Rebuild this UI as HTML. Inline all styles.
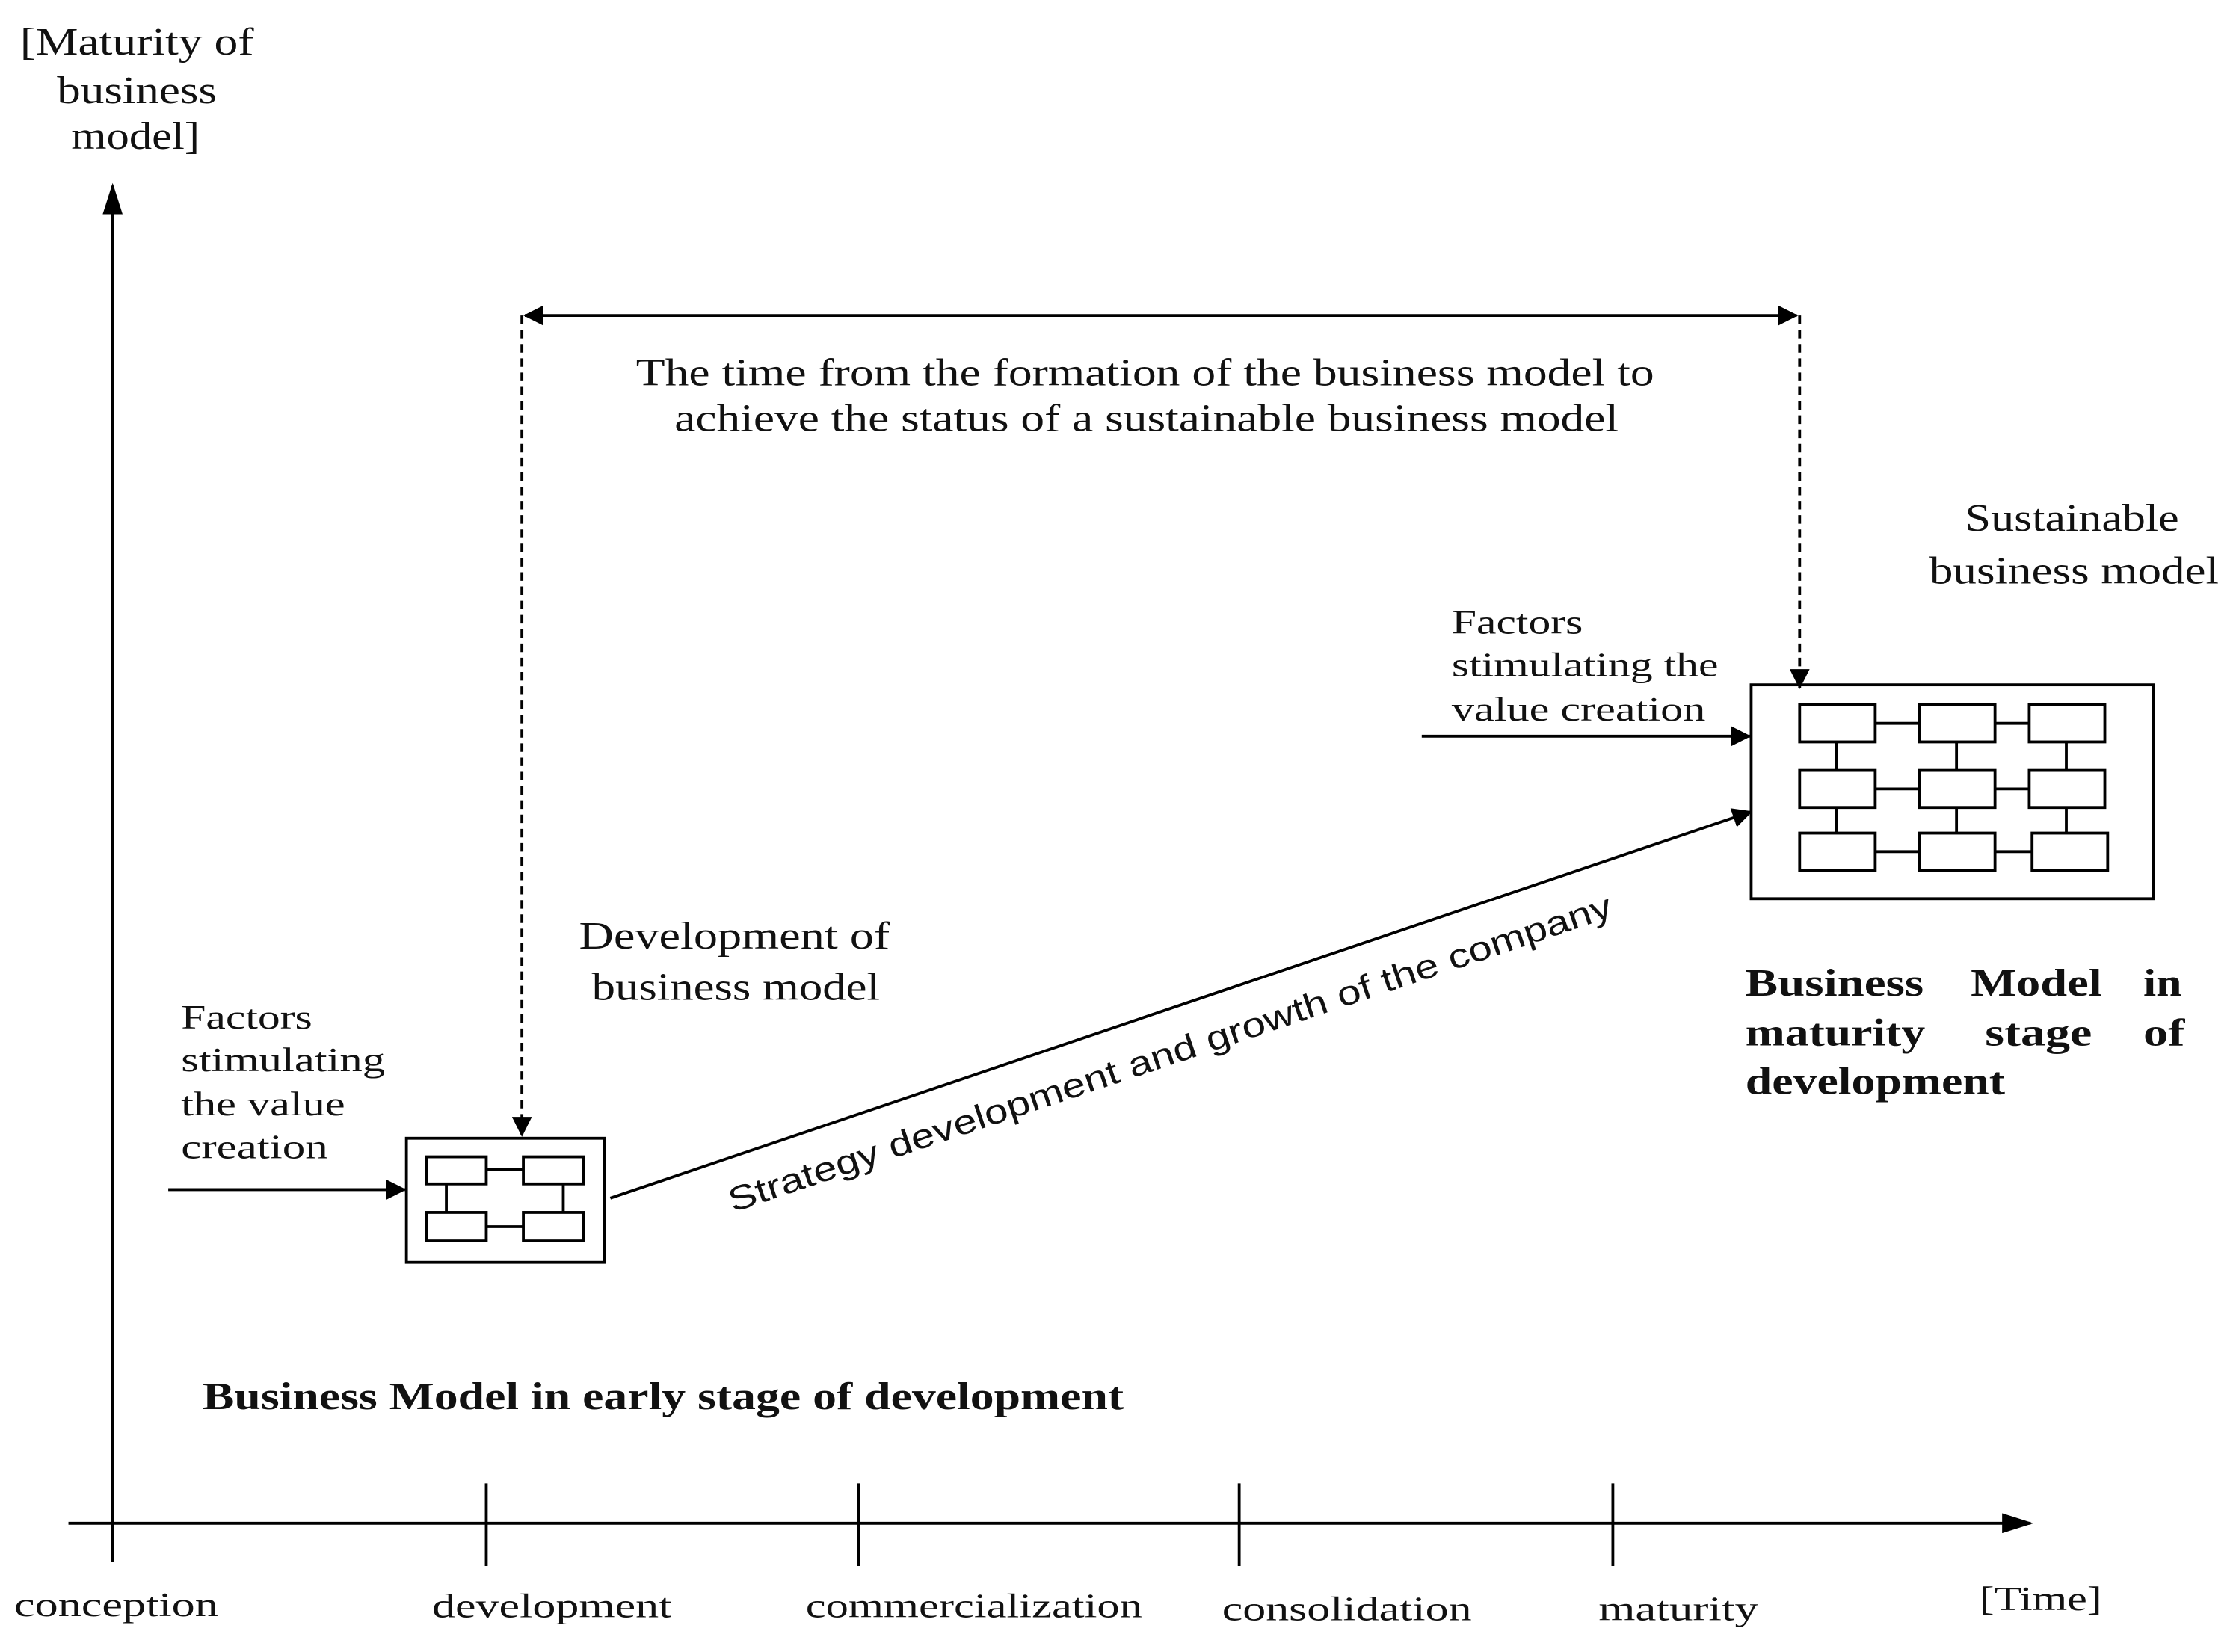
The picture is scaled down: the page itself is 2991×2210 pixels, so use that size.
<!DOCTYPE html>
<html><head><meta charset="utf-8"><style>
html,body{margin:0;padding:0;background:#fff;}
svg{display:block;}
text{font-family:"Liberation Serif",serif;fill:#111;}
</style></head><body>
<svg width="2991" height="2210" viewBox="0 0 1568 1158" xmlns="http://www.w3.org/2000/svg">
<defs>
<marker id="b" markerWidth="22" markerHeight="14" refX="20" refY="7" orient="auto" markerUnits="userSpaceOnUse" viewBox="0 0 22 14">
<path d="M0,0 L22,7 L0,14 z" fill="#000"/></marker>
<marker id="s" markerWidth="14" markerHeight="14" refX="13" refY="7" orient="auto" markerUnits="userSpaceOnUse" viewBox="0 0 14 14">
<path d="M0,0 L14,7 L0,14 z" fill="#000"/></marker>
<marker id="sb" markerWidth="14" markerHeight="14" refX="1" refY="7" orient="auto" markerUnits="userSpaceOnUse" viewBox="0 0 14 14">
<path d="M14,0 L0,7 L14,14 z" fill="#000"/></marker>
</defs>
<g stroke="#000" stroke-width="2" fill="none">
<line x1="79" y1="1068" x2="79" y2="130" marker-end="url(#b)"/>
<line x1="48" y1="1068" x2="1424" y2="1068" marker-end="url(#b)"/>
<line x1="79" y1="1068" x2="79" y2="1095"/>
<line x1="341" y1="1040" x2="341" y2="1098"/>
<line x1="602" y1="1040" x2="602" y2="1098"/>
<line x1="869" y1="1040" x2="869" y2="1098"/>
<line x1="1131" y1="1040" x2="1131" y2="1098"/>
<line x1="368" y1="221" x2="1260" y2="221" marker-start="url(#sb)" marker-end="url(#s)"/>
<line x1="366" y1="221" x2="366" y2="796" stroke-dasharray="6,4" marker-end="url(#s)"/>
<line x1="1262" y1="221" x2="1262" y2="482" stroke-dasharray="6,4" marker-end="url(#s)"/>
<line x1="118" y1="834" x2="284" y2="834" marker-end="url(#s)"/>
<line x1="997" y1="516" x2="1227" y2="516" marker-end="url(#s)"/>
<line x1="428" y1="840" x2="1228" y2="569" marker-end="url(#s)"/>
<rect x="285" y="798" width="139" height="87"/>
<rect x="299" y="811" width="42" height="19"/><rect x="367" y="811" width="42" height="19"/>
<rect x="299" y="850" width="42" height="20"/><rect x="367" y="850" width="42" height="20"/>
<line x1="341" y1="820" x2="367" y2="820"/><line x1="341" y1="860" x2="367" y2="860"/>
<line x1="313" y1="830" x2="313" y2="850"/><line x1="395" y1="830" x2="395" y2="850"/>
<rect x="1228" y="480" width="282" height="150"/>
<g>
<rect x="1262" y="494" width="53" height="26"/><rect x="1346" y="494" width="53" height="26"/><rect x="1423" y="494" width="53" height="26"/>
<rect x="1262" y="540" width="53" height="26"/><rect x="1346" y="540" width="53" height="26"/><rect x="1423" y="540" width="53" height="26"/>
<rect x="1262" y="584" width="53" height="26"/><rect x="1346" y="584" width="53" height="26"/><rect x="1425" y="584" width="53" height="26"/>
<line x1="1315" y1="507" x2="1346" y2="507"/><line x1="1399" y1="507" x2="1423" y2="507"/>
<line x1="1315" y1="553" x2="1346" y2="553"/><line x1="1399" y1="553" x2="1423" y2="553"/>
<line x1="1315" y1="597" x2="1346" y2="597"/><line x1="1399" y1="597" x2="1425" y2="597"/>
<line x1="1288" y1="520" x2="1288" y2="540"/><line x1="1372" y1="520" x2="1372" y2="540"/><line x1="1449" y1="520" x2="1449" y2="540"/>
<line x1="1288" y1="566" x2="1288" y2="584"/><line x1="1372" y1="566" x2="1372" y2="584"/><line x1="1449" y1="566" x2="1449" y2="584"/>
</g>
</g>
<g font-size="27" lengthAdjust="spacingAndGlyphs">
<text x="14" y="38" textLength="164" lengthAdjust="spacingAndGlyphs">[Maturity of</text>
<text x="40" y="72" textLength="112" lengthAdjust="spacingAndGlyphs">business</text>
<text x="50" y="104" textLength="90" lengthAdjust="spacingAndGlyphs">model]</text>
<text x="446" y="270" textLength="714" lengthAdjust="spacingAndGlyphs">The  time  from  the  formation  of  the  business  model  to</text>
<text x="473" y="302" textLength="662" lengthAdjust="spacingAndGlyphs">achieve  the  status  of  a  sustainable  business  model</text>
<text x="1378" y="372" textLength="150" lengthAdjust="spacingAndGlyphs">Sustainable</text>
<text x="1353" y="409" textLength="203" lengthAdjust="spacingAndGlyphs">business model</text>
<text x="406" y="665" textLength="218" lengthAdjust="spacingAndGlyphs">Development  of</text>
<text x="415" y="701" textLength="202" lengthAdjust="spacingAndGlyphs">business model</text>
</g>
<g font-size="24">
<text x="1018" y="444" textLength="92" lengthAdjust="spacingAndGlyphs">Factors</text>
<text x="1018" y="474" textLength="187" lengthAdjust="spacingAndGlyphs">stimulating the</text>
<text x="1018" y="505" textLength="178" lengthAdjust="spacingAndGlyphs">value creation</text>
<text x="127" y="721" textLength="92" lengthAdjust="spacingAndGlyphs">Factors</text>
<text x="127" y="751" textLength="143" lengthAdjust="spacingAndGlyphs">stimulating</text>
<text x="127" y="782" textLength="115" lengthAdjust="spacingAndGlyphs">the value</text>
<text x="127" y="812" textLength="103" lengthAdjust="spacingAndGlyphs">creation</text>
<text x="10" y="1133" textLength="143" lengthAdjust="spacingAndGlyphs">conception</text>
<text x="303" y="1134" textLength="168" lengthAdjust="spacingAndGlyphs">development</text>
<text x="565" y="1134" textLength="236" lengthAdjust="spacingAndGlyphs">commercialization</text>
<text x="857" y="1136" textLength="175" lengthAdjust="spacingAndGlyphs">consolidation</text>
<text x="1121" y="1136" textLength="112" lengthAdjust="spacingAndGlyphs">maturity</text>
<text x="1388" y="1129" textLength="86" lengthAdjust="spacingAndGlyphs">[Time]</text>
</g>
<g font-size="27" font-weight="bold">
<text x="1224" y="698" textLength="125" lengthAdjust="spacingAndGlyphs">Business</text><text x="1382" y="698" textLength="92" lengthAdjust="spacingAndGlyphs">Model</text><text x="1503" y="698" textLength="27" lengthAdjust="spacingAndGlyphs">in</text>
<text x="1224" y="733" textLength="126" lengthAdjust="spacingAndGlyphs">maturity</text><text x="1392" y="733" textLength="75" lengthAdjust="spacingAndGlyphs">stage</text><text x="1503" y="733" textLength="29" lengthAdjust="spacingAndGlyphs">of</text>
<text x="1224" y="767" textLength="182" lengthAdjust="spacingAndGlyphs">development</text>
<text x="142" y="988" textLength="646" lengthAdjust="spacingAndGlyphs">Business Model in early stage of development</text>
</g>
<text x="0" y="0" font-size="24" textLength="652" lengthAdjust="spacingAndGlyphs" style="font-family:'Liberation Sans',sans-serif" transform="translate(514,850) rotate(-18.6)">Strategy development and growth of the company</text>
</svg>
</body></html>
